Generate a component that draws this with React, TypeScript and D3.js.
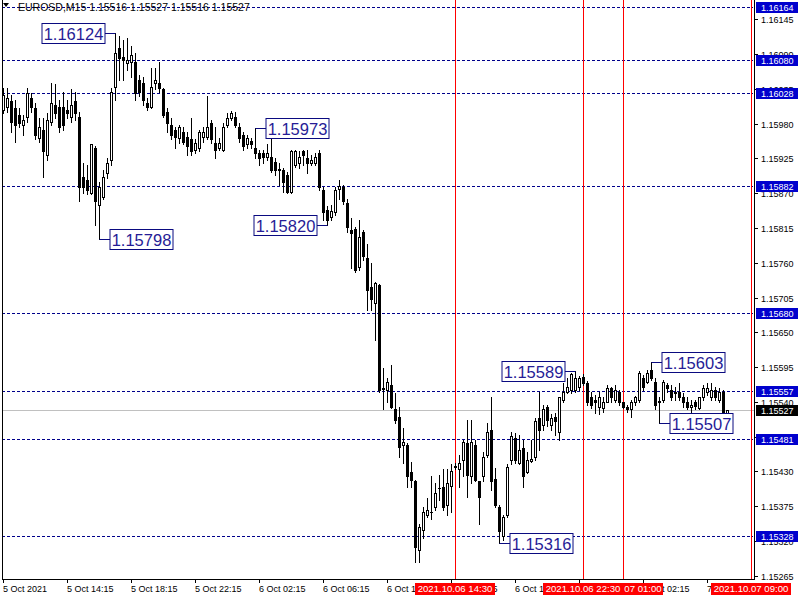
import React from 'react';
import * as d3 from 'd3';

const chartTitle = 'EUROSD,M15  1.15516 1.15527 1.15516 1.15527';

const openP = [
  1.16002,1.16007,1.16015,1.16005,1.15994,1.15978,1.15991,1.16021,1.16005,1.15958,
  1.15970,1.15931,1.15983,1.16010,1.16007,1.16007,1.16002,1.15991,1.16015,1.15991,
  1.15896,1.15891,1.15871,1.15942,1.15852,1.15864,1.15902,1.15923,1.16038,1.16100,
  1.16086,1.16076,1.16078,1.16078,1.16049,1.16045,1.16013,1.16007,1.16045,1.16045,
  1.16034,1.15999,1.15978,1.15970,1.15958,1.15967,1.15959,1.15955,1.15939,1.15942,
  1.15959,1.15959,1.15981,1.15950,1.15942,1.15939,1.15978,1.15989,1.15991,1.15975,
  1.15962,1.15947,1.15953,1.15942,1.15934,1.15934,1.15928,1.15928,1.15920,1.15909,
  1.15907,1.15899,1.15872,1.15915,1.15918,1.15936,1.15926,1.15918,1.15918,1.15934,
  1.15875,1.15844,1.15833,1.15841,1.15877,1.15879,1.15855,1.15812,1.15814,1.15754,
  1.15809,1.15768,1.15722,1.15697,1.15725,1.15562,1.15559,1.15567,1.15528,1.15516,
  1.15472,1.15472,1.15429,1.15414,1.15306,1.15338,1.15361,1.15365,1.15373,1.15403,
  1.15406,1.15377,1.15407,1.15437,1.15433,1.15448,1.15475,1.15422,1.15472,1.15414,
  1.15422,1.15456,1.15496,1.15418,1.15373,1.15327,1.15361,1.15448,1.15482,1.15444,
  1.15467,1.15429,1.15447,1.15452,1.15515,1.15504,1.15532,1.15504,1.15516,1.15493,
  1.15543,1.15556,1.15559,1.15559,1.15564,1.15580,1.15570,1.15547,1.15543,1.15532,
  1.15531,1.15540,1.15562,1.15543,1.15556,1.15539,1.15532,1.15528,1.15539,1.15543,
  1.15578,1.15572,1.15591,1.15572,1.15540,1.15543,1.15567,1.15559,1.15556,1.15556,
  1.15547,1.15540,1.15532,1.15539,1.15531,1.15547,1.15556,1.15548,1.15559,1.15543,
  1.15556,1.15516,
];

const highP = [
  1.16037,1.16037,1.16026,1.16018,1.16005,1.15994,1.16037,1.16029,1.16013,1.15989,
  1.15989,1.15997,1.16045,1.16042,1.16018,1.16030,1.16018,1.16034,1.16030,1.15999,
  1.15918,1.15915,1.15948,1.15944,1.15887,1.15907,1.15926,1.16037,1.16124,1.16119,
  1.16113,1.16116,1.16102,1.16092,1.16057,1.16054,1.16021,1.16068,1.16068,1.16078,
  1.16037,1.16005,1.15989,1.15975,1.15978,1.15975,1.15966,1.15989,1.15955,1.15970,
  1.15974,1.16023,1.15986,1.15975,1.15958,1.15981,1.15997,1.16000,1.15999,1.15981,
  1.15967,1.15962,1.15958,1.15973,1.15939,1.15939,1.15947,1.15959,1.15926,1.15918,
  1.15910,1.15904,1.15939,1.15939,1.15936,1.15939,1.15939,1.15931,1.15934,1.15939,
  1.15879,1.15849,1.15852,1.15879,1.15891,1.15883,1.15860,1.15831,1.15817,1.15828,
  1.15812,1.15789,1.15760,1.15730,1.15727,1.15594,1.15578,1.15599,1.15554,1.15532,
  1.15499,1.15475,1.15445,1.15417,1.15346,1.15374,1.15388,1.15422,1.15412,1.15425,
  1.15433,1.15433,1.15441,1.15444,1.15456,1.15480,1.15512,1.15512,1.15480,1.15415,
  1.15461,1.15507,1.15548,1.15436,1.15377,1.15361,1.15441,1.15493,1.15491,1.15488,
  1.15480,1.15460,1.15480,1.15515,1.15556,1.15535,1.15535,1.15520,1.15523,1.15548,
  1.15570,1.15578,1.15586,1.15589,1.15581,1.15584,1.15573,1.15556,1.15551,1.15556,
  1.15548,1.15567,1.15564,1.15567,1.15559,1.15540,1.15535,1.15543,1.15550,1.15588,
  1.15583,1.15591,1.15603,1.15578,1.15548,1.15575,1.15570,1.15567,1.15564,1.15570,
  1.15554,1.15548,1.15543,1.15543,1.15548,1.15567,1.15570,1.15570,1.15564,1.15562,
  1.15559,1.15527,
];

const lowP = [
  1.15997,1.15999,1.15966,1.15951,1.15974,1.15962,1.15983,1.15999,1.15955,1.15951,
  1.15896,1.15923,1.15978,1.15989,1.15967,1.15970,1.15989,1.15983,1.15986,1.15857,
  1.15871,1.15868,1.15868,1.15820,1.15798,1.15860,1.15894,1.15915,1.16018,1.16049,
  1.16049,1.16065,1.16053,1.16018,1.16023,1.16010,1.16002,1.16005,1.16034,1.16030,
  1.15991,1.15967,1.15955,1.15942,1.15950,1.15947,1.15931,1.15931,1.15934,1.15936,
  1.15951,1.15955,1.15950,1.15926,1.15939,1.15936,1.15975,1.15986,1.15975,1.15951,
  1.15939,1.15942,1.15942,1.15926,1.15915,1.15918,1.15923,1.15904,1.15899,1.15883,
  1.15872,1.15871,1.15871,1.15912,1.15910,1.15915,1.15902,1.15915,1.15915,1.15875,
  1.15828,1.15820,1.15828,1.15836,1.15860,1.15853,1.15809,1.15752,1.15746,1.15749,
  1.15765,1.15686,1.15686,1.15638,1.15556,1.15528,1.15539,1.15531,1.15507,1.15452,
  1.15444,1.15406,1.15406,1.15287,1.15286,1.15325,1.15358,1.15354,1.15369,1.15385,
  1.15369,1.15361,1.15365,1.15433,1.15406,1.15422,1.15390,1.15412,1.15415,1.15346,
  1.15414,1.15453,1.15401,1.15373,1.15316,1.15322,1.15358,1.15441,1.15444,1.15441,
  1.15406,1.15428,1.15445,1.15448,1.15464,1.15496,1.15501,1.15496,1.15488,1.15480,
  1.15539,1.15554,1.15554,1.15556,1.15559,1.15567,1.15535,1.15531,1.15523,1.15520,
  1.15524,1.15539,1.15539,1.15539,1.15535,1.15531,1.15524,1.15516,1.15535,1.15540,
  1.15559,1.15570,1.15575,1.15528,1.15507,1.15540,1.15556,1.15543,1.15543,1.15543,
  1.15532,1.15528,1.15516,1.15528,1.15528,1.15543,1.15551,1.15543,1.15543,1.15540,
  1.15520,1.15516,
];

const closeP = [
  1.16026,1.16021,1.15983,1.15978,1.15981,1.15986,1.16029,1.16007,1.15962,1.15975,
  1.15936,1.15986,1.16013,1.15997,1.15974,1.15978,1.15997,1.16010,1.15997,1.15880,
  1.15879,1.15875,1.15947,1.15857,1.15880,1.15896,1.15918,1.16030,1.16092,1.16084,
  1.16081,1.16081,1.16089,1.16029,1.16030,1.16018,1.16007,1.16038,1.16049,1.16037,
  1.15994,1.15981,1.15962,1.15959,1.15974,1.15951,1.15944,1.15936,1.15950,1.15967,
  1.15967,1.15975,1.15955,1.15939,1.15950,1.15975,1.15989,1.15997,1.15978,1.15958,
  1.15944,1.15958,1.15947,1.15934,1.15926,1.15928,1.15934,1.15907,1.15907,1.15907,
  1.15888,1.15872,1.15936,1.15936,1.15928,1.15931,1.15918,1.15923,1.15928,1.15879,
  1.15841,1.15828,1.15842,1.15875,1.15882,1.15857,1.15817,1.15807,1.15749,1.15801,
  1.15770,1.15717,1.15702,1.15728,1.15559,1.15561,1.15572,1.15532,1.15512,1.15469,
  1.15477,1.15422,1.15417,1.15311,1.15342,1.15366,1.15369,1.15366,1.15396,1.15404,
  1.15373,1.15411,1.15431,1.15438,1.15444,1.15477,1.15425,1.15477,1.15417,1.15390,
  1.15452,1.15493,1.15414,1.15377,1.15335,1.15358,1.15437,1.15486,1.15448,1.15464,
  1.15422,1.15448,1.15450,1.15509,1.15496,1.15528,1.15512,1.15515,1.15509,1.15547,
  1.15556,1.15564,1.15584,1.15578,1.15578,1.15570,1.15539,1.15535,1.15539,1.15548,
  1.15540,1.15562,1.15548,1.15559,1.15539,1.15532,1.15528,1.15539,1.15547,1.15586,
  1.15564,1.15586,1.15578,1.15535,1.15542,1.15572,1.15562,1.15548,1.15554,1.15548,
  1.15539,1.15532,1.15535,1.15534,1.15547,1.15562,1.15562,1.15559,1.15548,1.15556,
  1.15524,1.15527,
];

const timeLabels = [
  '5 Oct 2021', '5 Oct 14:15', '5 Oct 18:15', '5 Oct 22:15', '6 Oct 02:15', '6 Oct 06:15',
  '6 Oct 10:15', '6 Oct 14:15', '6 Oct 18:15', '6 Oct 22:15', '7 Oct 02:15', '7 Oct 06:15',
];
const timeLabelBars = [0, 16, 32, 48, 64, 80, 96, 112, 128, 144, 160, 176];

const priceTicks = [
  1.16145, 1.16090, 1.16035, 1.15980, 1.15925, 1.15870, 1.15815, 1.15760, 1.15705,
  1.15650, 1.15595, 1.15540, 1.15485, 1.15430, 1.15375, 1.15320, 1.15265,
];

const levelPrices = [1.16164, 1.16080, 1.16028, 1.15882, 1.15680, 1.15557, 1.15481, 1.15328];
const bidPrice = 1.15527;

const vLineBars = [113, 145, 155, 187];
const vLineLabels = ['2021.10.06 14:30', '2021.10.06 22:30', '07 01:00', '2021.10.07 09:00'];

const calloutValues = [1.16124, 1.15798, 1.15973, 1.15820, 1.15316, 1.15589, 1.15603, 1.15507];
const calloutBars = [28, 24, 63, 81, 124, 143, 162, 164];
const calloutSides = ['left', 'right', 'right', 'left', 'right', 'left', 'right', 'right'];

const FONT = "'Liberation Sans', Arial, sans-serif";

export default function App() {
  const W = 800;
  const H = 600;
  const plotLeft = 2;
  const plotRight = 754;
  const plotBottom = 579;

  const x = d3.scaleLinear().domain([0, 187]).range([3, 751]);
  const y = d3.scaleLinear().domain([1.15265, 1.16145]).range([575.7, 19.3]);
  const px = (i: number) => Math.round(x(i));
  const py = (p: number) => Math.round(y(p));

  const candles = openP.map((o, i) => ({ o, h: highP[i], l: lowP[i], c: closeP[i], i }));

  // red label placement (a label that would overlap the previous one starts where it ends)
  let prevEnd = -Infinity;
  const redLabels = vLineBars.map((b, k) => {
    const text = vLineLabels[k];
    const w = text.length > 10 ? 80 : 40;
    let left = px(b) - w / 2;
    if (left < prevEnd) left = prevEnd;
    prevEnd = left + w;
    return { text, left, w };
  });

  return (
    <svg
      width={W}
      height={H}
      style={{ position: 'fixed', left: 0, top: 0, background: '#fff' }}
      fontFamily={FONT}
    >
      <rect x={0} y={0} width={W} height={H} fill="#fff" />

      {/* horizontal level lines */}
      {levelPrices.map((p, k) => (
        <line
          key={'lv' + k}
          x1={plotLeft}
          x2={plotRight - 1}
          y1={py(p) + 0.5}
          y2={py(p) + 0.5}
          stroke="#00008b"
          strokeWidth={1}
          strokeDasharray="3 2"
        />
      ))}

      {/* bid line */}
      <line x1={plotLeft} x2={plotRight} y1={py(bidPrice) + 0.5} y2={py(bidPrice) + 0.5} stroke="#c0c0c0" strokeWidth={1} />

      {/* vertical lines */}
      {vLineBars.map((b, k) => (
        <line key={'vl' + k} x1={px(b) + 0.5} x2={px(b) + 0.5} y1={0} y2={plotBottom} stroke="#ff0000" strokeWidth={1} />
      ))}

      {/* candles */}
      {candles.map((d) => {
        const cx = px(d.i);
        const yh = py(d.h);
        const yl = py(d.l);
        const top = py(Math.max(d.o, d.c));
        const bot = py(Math.min(d.o, d.c));
        const bull = d.c > d.o;
        return (
          <g key={'c' + d.i}>
            <rect x={cx} y={yh} width={1} height={yl - yh + 1} fill="#000" />
            <rect x={cx - 1} y={top} width={3} height={bot - top + 1} fill="#000" />
            {bull && bot - top > 1 && <rect x={cx} y={top + 1} width={1} height={bot - top - 1} fill="#fff" />}
          </g>
        );
      })}

      {/* callouts */}
      {calloutValues.map((v, k) => {
        const cx = px(calloutBars[k]) + 0.5;
        const cy = py(v) + 0.5;
        const bw = 63;
        const bh = 20;
        const side = calloutSides[k];
        const bx = side === 'right' ? cx + 10.5 : cx - 10.5 - bw;
        const lx = side === 'right' ? bx : bx + bw;
        return (
          <g key={'co' + k}>
            <line x1={cx} x2={lx} y1={cy} y2={cy} stroke="#0a0a80" strokeWidth={1} />
            <rect x={bx} y={cy - bh / 2} width={bw} height={bh} fill="#fff" stroke="#0a0a80" strokeWidth={1} />
            <text x={bx + bw / 2} y={cy + 6} textAnchor="middle" fontSize={16.5} fill="#261c96">
              {v.toFixed(5)}
            </text>
          </g>
        );
      })}

      {/* frame */}
      <line x1={plotLeft + 0.5} x2={plotLeft + 0.5} y1={0} y2={plotBottom + 0.5} stroke="#000" />
      <line x1={plotLeft} x2={plotRight + 1} y1={plotBottom + 0.5} y2={plotBottom + 0.5} stroke="#000" />
      <line x1={plotRight + 0.5} x2={plotRight + 0.5} y1={0} y2={plotBottom + 1} stroke="#000" />

      {/* price axis ticks */}
      {priceTicks.map((p, k) => (
        <g key={'pt' + k}>
          <line x1={plotRight + 1} x2={plotRight + 4} y1={py(p) + 0.5} y2={py(p) + 0.5} stroke="#000" />
          <text x={761} y={py(p) + 4} fontSize={9} fill="#000">
            {p.toFixed(5)}
          </text>
        </g>
      ))}

      {/* level price labels */}
      {levelPrices.map((p, k) => (
        <g key={'lp' + k}>
          <rect x={756} y={py(p) - 5} width={42} height={11} fill="#0000cd" />
          <text x={761} y={py(p) + 4} fontSize={9} fill="#fff">
            {p.toFixed(5)}
          </text>
        </g>
      ))}
      <rect x={756} y={py(bidPrice) - 5} width={42} height={11} fill="#000" />
      <text x={761} y={py(bidPrice) + 4} fontSize={9} fill="#fff">
        {bidPrice.toFixed(5)}
      </text>

      {/* time axis */}
      {timeLabelBars.map((b, k) => (
        <g key={'tl' + k}>
          <line x1={px(b) + 0.5} x2={px(b) + 0.5} y1={plotBottom} y2={plotBottom + 4} stroke="#000" />
          <text x={px(b)} y={592} fontSize={9} fill="#000">
            {timeLabels[k]}
          </text>
        </g>
      ))}

      {/* red time labels */}
      {redLabels.map((r, k) => (
        <g key={'rl' + k}>
          <rect x={r.left} y={583} width={r.w} height={12} fill="#ff0000" />
          <text x={r.left + r.w / 2} y={592} fontSize={9.6} fill="#fff" textAnchor="middle">
            {r.text}
          </text>
        </g>
      ))}

      {/* title */}
      <path d="M3,3 L9,3 L6,7 Z" fill="#000" />
      <text x={18} y={11} fontSize={10.5} fill="#000">
        {chartTitle}
      </text>
    </svg>
  );
}
